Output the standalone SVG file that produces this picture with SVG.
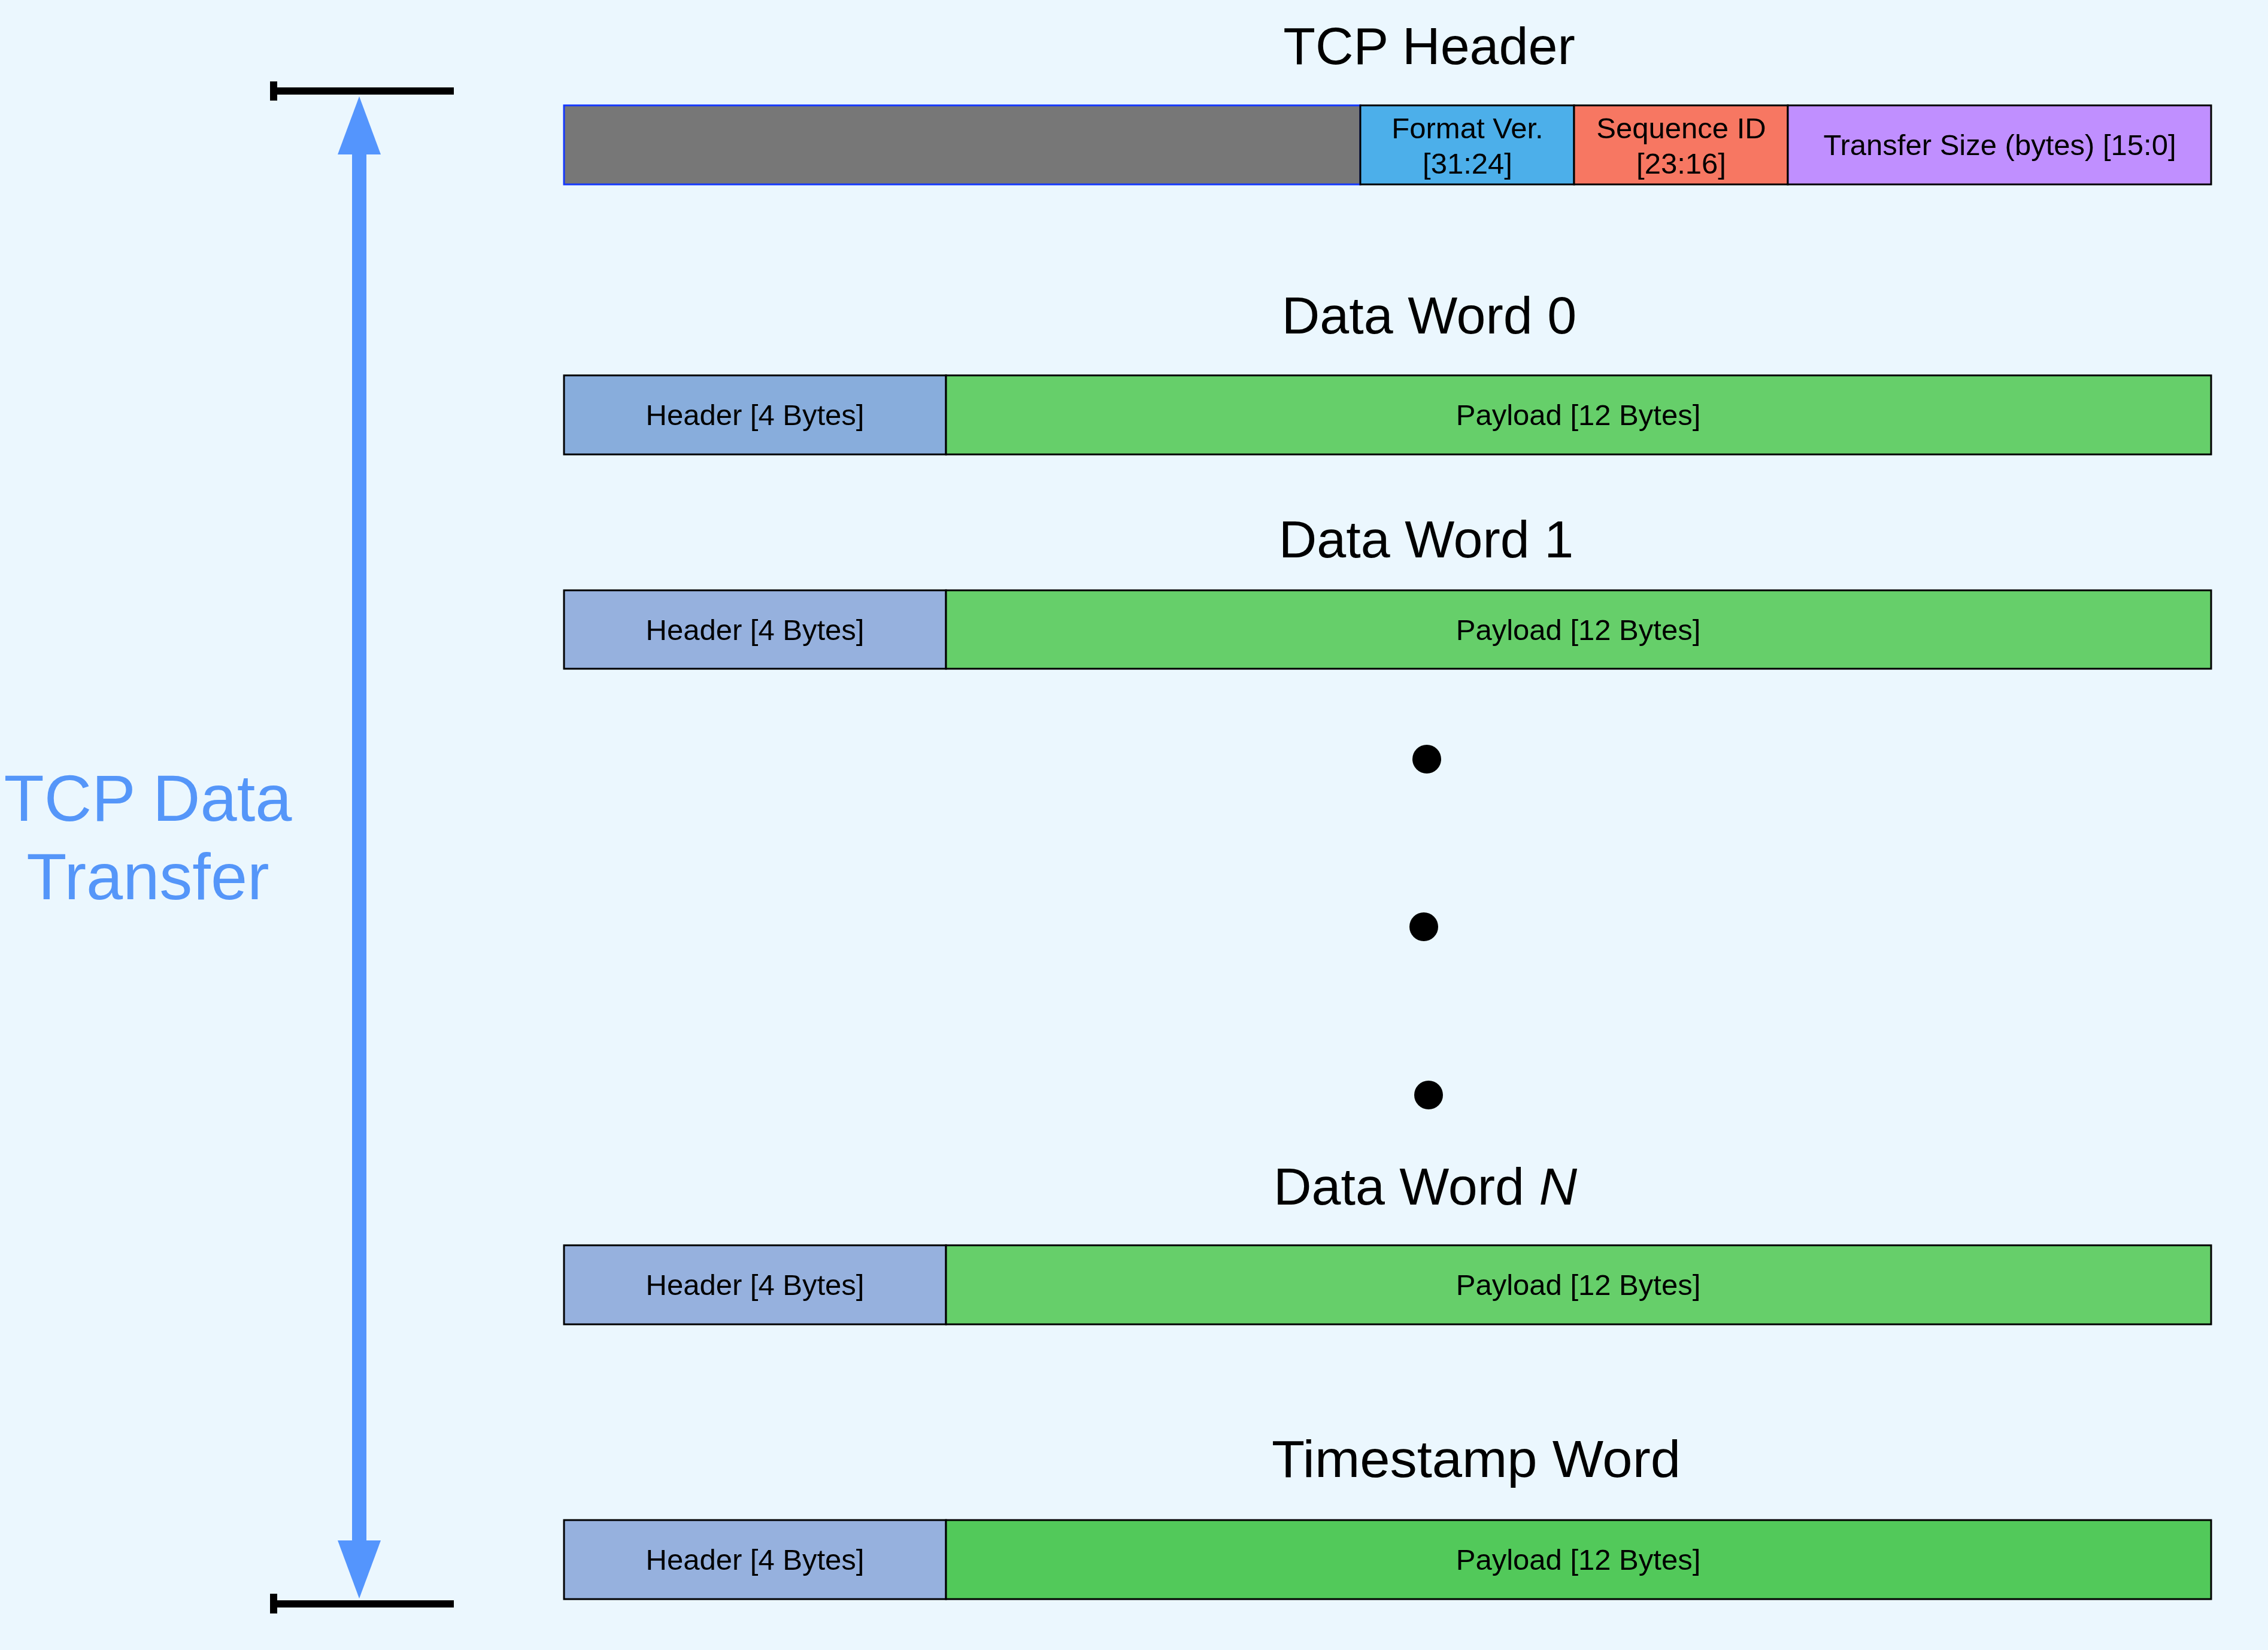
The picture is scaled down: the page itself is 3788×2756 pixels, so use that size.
<svg xmlns="http://www.w3.org/2000/svg" width="3788" height="2756" viewBox="0 0 3788 2756">
<style>
  .title { font-family: "Liberation Sans", Arial, Helvetica, sans-serif; font-size: 88px; fill: #000; }
  .lbl { font-family: "Liberation Sans", Arial, Helvetica, sans-serif; font-size: 49px; fill: #000; text-anchor: middle; }
  .seg { stroke: #000; stroke-width: 3; }
  .hdr0 { fill: #88ADDC; }
  .hdr { fill: #96B1DE; }
  .pay { fill: #66CF6A; }
  .pay2 { fill: #52C95A; }
  .tick { fill: #000; }
  .side { font-family: "Liberation Sans", Arial, Helvetica, sans-serif; font-size: 110px; fill: #5596F9; text-anchor: middle; }
</style>
<rect x="0" y="0" width="3788" height="2756" fill="#EBF7FE"/>

<g id="tcp-header">
  <text class="title" x="2387" y="107" text-anchor="middle">TCP Header</text>
  <rect x="942" y="176" width="1330" height="132" fill="#777777" stroke="#1438FF" stroke-width="3"/>
  <rect class="seg" x="2272" y="176" width="357" height="132" fill="#4CAFEA"/>
  <rect class="seg" x="2629" y="176" width="357" height="132" fill="#F77762"/>
  <rect class="seg" x="2986" y="176" width="707" height="132" fill="#C08FFF"/>
  <text class="lbl" x="2451" y="231">Format Ver.</text>
  <text class="lbl" x="2451" y="290">[31:24]</text>
  <text class="lbl" x="2808" y="231">Sequence ID</text>
  <text class="lbl" x="2808" y="290">[23:16]</text>
  <text class="lbl" x="3340" y="259">Transfer Size (bytes) [15:0]</text>
</g>

<g id="data-word-0">
  <text class="title" x="2387" y="557" text-anchor="middle">Data Word 0</text>
  <rect class="seg hdr0" x="942" y="627" width="638" height="132"/>
  <rect class="seg pay" x="1580" y="627" width="2113" height="132"/>
  <text class="lbl" x="1261" y="710">Header [4 Bytes]</text>
  <text class="lbl" x="2636" y="710">Payload [12 Bytes]</text>
</g>

<g id="data-word-1">
  <text class="title" x="2382" y="931" text-anchor="middle">Data Word 1</text>
  <rect class="seg hdr" x="942" y="986" width="638" height="131"/>
  <rect class="seg pay" x="1580" y="986" width="2113" height="131"/>
  <text class="lbl" x="1261" y="1069">Header [4 Bytes]</text>
  <text class="lbl" x="2636" y="1069">Payload [12 Bytes]</text>
</g>

<g id="ellipsis">
  <circle cx="2383" cy="1268" r="24" fill="#000"/>
  <circle cx="2378" cy="1548" r="24" fill="#000"/>
  <circle cx="2386" cy="1829" r="24" fill="#000"/>
</g>

<g id="data-word-n">
  <text class="title" x="2127" y="2012">Data Word <tspan font-style="italic">N</tspan></text>
  <rect class="seg hdr" x="942" y="2080" width="638" height="132"/>
  <rect class="seg pay" x="1580" y="2080" width="2113" height="132"/>
  <text class="lbl" x="1261" y="2163">Header [4 Bytes]</text>
  <text class="lbl" x="2636" y="2163">Payload [12 Bytes]</text>
</g>

<g id="timestamp-word">
  <text class="title" x="2124" y="2467" textLength="683" lengthAdjust="spacingAndGlyphs">Timestamp Word</text>
  <rect class="seg hdr" x="942" y="2539" width="638" height="132"/>
  <rect class="seg pay2" x="1580" y="2539" width="2113" height="132"/>
  <text class="lbl" x="1261" y="2622">Header [4 Bytes]</text>
  <text class="lbl" x="2636" y="2622">Payload [12 Bytes]</text>
</g>

<g id="tcp-data-transfer-label">
  <text class="side" x="247" y="1371">TCP Data</text>
  <text class="side" x="247" y="1502">Transfer</text>
</g>

<g id="connectors">
  <rect class="tick" x="451" y="146" width="307" height="12"/>
  <rect class="tick" x="451" y="136" width="12" height="32"/>
  <rect class="tick" x="451" y="2673" width="307" height="12"/>
  <rect class="tick" x="451" y="2662" width="12" height="33"/>
  <rect x="588" y="256" width="24" height="2319" fill="#5495FD"/>
  <path d="M600 161 L636 258 L564 258 Z" fill="#5495FD"/>
  <path d="M600 2670 L636 2573 L564 2573 Z" fill="#5495FD"/>
</g>
</svg>
